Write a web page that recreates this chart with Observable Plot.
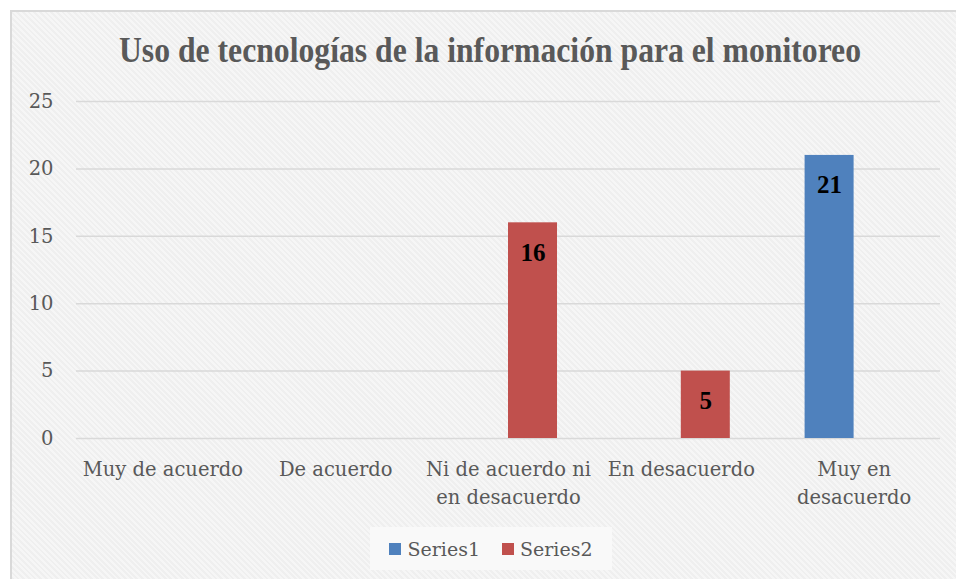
<!DOCTYPE html>
<html>
<head>
<meta charset="utf-8">
<script src="https://cdn.jsdelivr.net/npm/d3@7"></script>
<script src="https://cdn.jsdelivr.net/npm/@observablehq/plot@0.6"></script>
<style>
  html, body { margin: 0; padding: 0; width: 956px; height: 579px; overflow: hidden; background: #ffffff; }
  #frame {
    position: absolute; left: 10px; top: 10px; width: 960px; height: 580px;
    border: 2px solid #d9d9d9; box-sizing: border-box;
    background-color: #f3f3f3;
    background-image: repeating-linear-gradient(45deg, #f6f6f6 0px, #f6f6f6 2px, #efefef 2px, #efefef 4px);
  }
  #title {
    position: absolute; left: 0; top: 28px; width: 980px; height: 44px; line-height: 44px;
    text-align: center; font-family: "Liberation Serif", serif; font-weight: bold; font-size: 36px; color: #595959;
    transform: scaleX(0.88); transform-origin: 490px 0;
  }
  #chart { position: absolute; left: 0; top: 80px; }
  #legend {
    position: absolute; left: 370px; top: 527px; width: 242px; height: 43px;
    background: rgba(250,250,250,0.9);
    display: flex; align-items: center; justify-content: center; gap: 22px;
    font-family: "DejaVu Serif", serif; font-size: 19px; color: #595959;
  }
  .item { display: flex; align-items: center; gap: 6px; }
  .sw { width: 12px; height: 12px; display: inline-block; }
</style>
</head>
<body>
<div id="frame"></div>
<div id="title">Uso de tecnologías de la información para el monitoreo</div>
<div id="chart"></div>
<div id="legend"></div>
<script>
const categories = ["Muy de acuerdo", "De acuerdo", "Ni de acuerdo ni en desacuerdo", "En desacuerdo", "Muy en desacuerdo"];
const tickLabels = ["Muy de acuerdo", "De acuerdo", "Ni de acuerdo ni\nen desacuerdo", "En desacuerdo", "Muy en\ndesacuerdo"];
const seriesNames = ["Series1", "Series2"];
const seriesColors = ["#4f81bd", "#c0504d"];
const series1 = [null, null, null, null, 21];
const series2 = [null, null, 16, 5, null];
const yTicks = [0, 5, 10, 15, 20, 25];

const seriesValues = [series1, series2];
const data = [];
categories.forEach((c, i) => {
  seriesNames.forEach((s, j) => {
    data.push({category: c, series: s, value: seriesValues[j][i]});
  });
});

const chart = Plot.plot({
  width: 956,
  height: 440,
  marginTop: 21,
  marginBottom: 82,
  marginLeft: 76,
  marginRight: 16,
  style: {background: "transparent", fontFamily: "DejaVu Serif, serif"},
  fx: {domain: categories, padding: 0, label: null, round: false},
  x: {domain: seriesNames, paddingInner: 0, paddingOuter: 0.763, axis: null, round: false},
  y: {domain: [0, 25], axis: null},
  color: {domain: seriesNames, range: seriesColors},
  marks: [
    Plot.gridY(yTicks, {stroke: "#d9d9d9", strokeOpacity: 1, strokeWidth: 1.5}),
    Plot.axisY(yTicks, {tickSize: 0, tickPadding: 23, fontSize: 19.5, fill: "#595959", label: null}),
    Plot.axisFx({anchor: "bottom", tickSize: 0, tickPadding: 18, fontSize: 19.5, fill: "#595959", label: null, lineHeight: 1.42,
      tickFormat: d => tickLabels[categories.indexOf(d)]}),
    Plot.barY(data, {fx: "category", x: "series", y: "value", fill: "series"}),
    Plot.text(data.filter(d => d.value != null), {fx: "category", x: "series", y: "value", text: d => String(d.value),
      dy: 30, fontWeight: "bold", fontSize: 25, fontFamily: "Liberation Serif, serif", fill: "#000000"})
  ]
});
document.getElementById("chart").appendChild(chart);

const legend = document.getElementById("legend");
seriesNames.forEach((s, i) => {
  const item = document.createElement("div");
  item.className = "item";
  const sw = document.createElement("span");
  sw.className = "sw";
  sw.style.background = seriesColors[i];
  const t = document.createElement("span");
  t.textContent = s;
  item.appendChild(sw);
  item.appendChild(t);
  legend.appendChild(item);
});
</script>
</body>
</html>
